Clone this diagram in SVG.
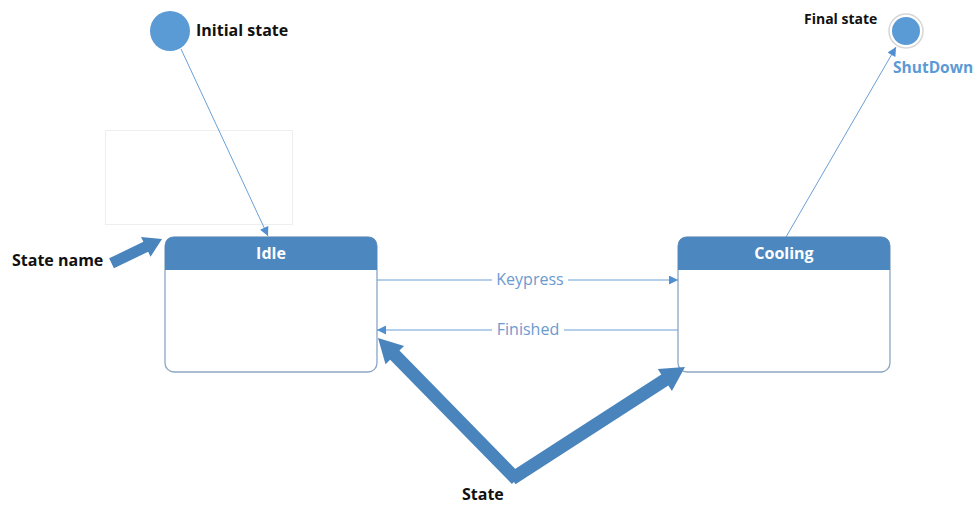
<svg xmlns="http://www.w3.org/2000/svg" width="978" height="506" viewBox="0 0 978 506">
  <style>
    .lbl { font-family: "Open Sans", "Liberation Sans", sans-serif; font-weight: bold; fill: #111; }
    .hdr { font-family: "Open Sans", "Liberation Sans", sans-serif; font-weight: bold; fill: #fff; font-size: 16px; }
    .edge { font-family: "Open Sans", "Liberation Sans", sans-serif; fill: #6a9ad0; font-size: 16px; }
    .box { fill: #fff; stroke: #8aa6c2; stroke-width: 1.3; }
    .bar { fill: #4d87bf; }
    .wire { fill: none; stroke: #6aa0d6; stroke-width: 1; }
    .fat { fill: #4a84bd; }
  </style>
  <defs>
    <marker id="tip" viewBox="0 0 10 10" refX="10" refY="5" markerWidth="10" markerHeight="9" markerUnits="userSpaceOnUse" orient="auto">
      <path d="M0,0 L10,5 L0,10 Z" fill="#4f8fd0"/>
    </marker>
  </defs>

  <!-- faint placeholder frame above Idle -->
  <rect x="105.5" y="130.5" width="187" height="94" fill="none" stroke="#eeeeee" stroke-width="1"/>

  <g id="initial">
    <circle cx="170" cy="31" r="20" fill="#5b9bd5"/>
    <text class="lbl" x="196" y="36" font-size="16">Initial state</text>
  </g>

  <g id="final">
    <circle cx="906" cy="31" r="17" fill="#fff" stroke="#d6d6d6" stroke-width="1.5"/>
    <circle cx="906" cy="31" r="14" fill="#5b9bd5"/>
    <text class="lbl" x="804" y="24" font-size="14">Final state</text>
    <text x="893" y="73" font-family="Open Sans, Liberation Sans, sans-serif" font-weight="bold" font-size="15.5" fill="#5b9bd5">ShutDown</text>
  </g>

  <g id="idle">
    <rect class="box" x="165" y="237" width="212" height="135" rx="9"/>
    <path class="bar" d="M165,270 V246 Q165,237 174,237 H368 Q377,237 377,246 V270 Z"/>
    <text class="hdr" x="271" y="259" text-anchor="middle">Idle</text>
  </g>

  <g id="cooling">
    <rect class="box" x="678" y="237" width="212" height="135" rx="9"/>
    <path class="bar" d="M678,270 V246 Q678,237 687,237 H881 Q890,237 890,246 V270 Z"/>
    <text class="hdr" x="784" y="259" text-anchor="middle">Cooling</text>
  </g>

  <g id="connectors">
    <line class="wire" x1="181" y1="49" x2="268" y2="236" marker-end="url(#tip)"/>
    <line class="wire" x1="786" y1="237" x2="896" y2="47" marker-end="url(#tip)"/>
    <line class="wire" x1="377" y1="280" x2="678" y2="280" marker-end="url(#tip)"/>
    <line class="wire" x1="678" y1="330" x2="377" y2="330" marker-end="url(#tip)"/>
    <rect x="492" y="270" width="76" height="20" fill="#fff"/>
    <text class="edge" x="530" y="285" text-anchor="middle">Keypress</text>
    <rect x="492" y="320" width="72" height="20" fill="#fff"/>
    <text class="edge" x="528" y="335" text-anchor="middle">Finished</text>
  </g>

  <g id="callouts">
    <text class="lbl" x="12" y="266" font-size="16">State name</text>
    <path class="fat" transform="translate(162,239) rotate(-25.7)" d="M0,0 L-18,-11 L-18,-5.5 L-56,-5.5 L-56,5.5 L-18,5.5 L-18,11 Z"/>
    <path class="fat" transform="translate(378,338) rotate(225.6)" d="M0,0 L-24,-13 L-24,-6.5 L-198,-6.5 L-198,6.5 L-24,6.5 L-24,13 Z"/>
    <path class="fat" transform="translate(685,367) rotate(-32.85)" d="M0,0 L-24,-13 L-24,-6.5 L-206,-6.5 L-206,6.5 L-24,6.5 L-24,13 Z"/>
    <text class="lbl" x="462" y="500" font-size="16">State</text>
  </g>
</svg>
